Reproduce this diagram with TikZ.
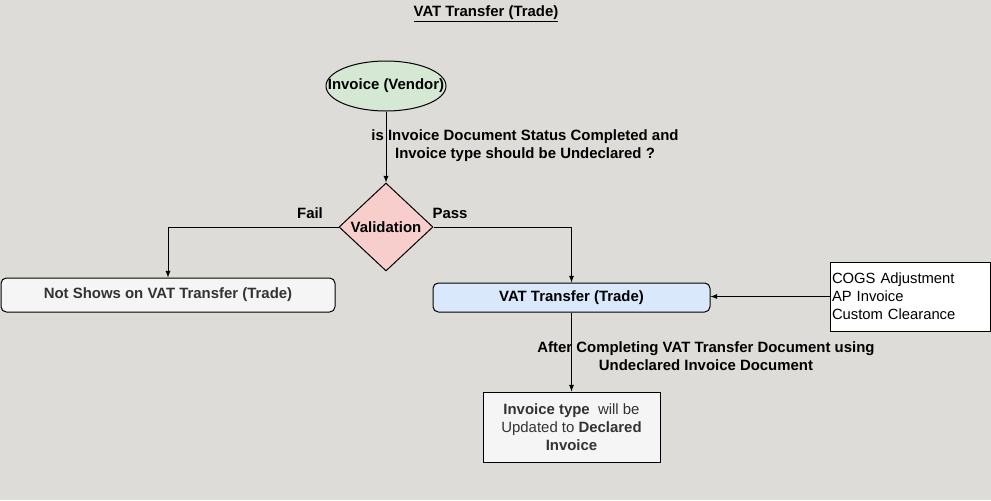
\documentclass[tikz,border=0pt]{standalone}
\usepackage{fontspec}
\setmainfont{Liberation Sans}
\usetikzlibrary{shapes.geometric,positioning}

\definecolor{bgGray}{HTML}{DEDCD8}
\definecolor{vendorGreen}{HTML}{D5E8D4}
\definecolor{checkRed}{HTML}{F8CECC}
\definecolor{vatBlue}{HTML}{DAE8FC}
\definecolor{plainGray}{HTML}{F5F5F5}
\definecolor{darkText}{HTML}{333333}

\newcommand{\pxw}[1]{#1*0.75pt}

\begin{document}
\begin{tikzpicture}[x=0.75pt,y=-0.75pt,line width=0.75pt,line join=round,>=latex,
    font=\fontsize{11.2}{13.5}\selectfont\bfseries,
    flowbox/.style={draw=black,inner sep=0pt,align=center},
    roundbox/.style={flowbox,rounded corners=4pt},
    flowlabel/.style={inner sep=0pt,align=center}]
  \fill [bgGray] (0,0) rectangle (991,500);
  \useasboundingbox (0,0) rectangle (991,500);

  \node (title) at (486,14) {\underline{VAT Transfer (Trade)}};

  % start and check (text laid over the fixed shape)
  \node [flowbox,ellipse,fill=vendorGreen,minimum width=\pxw{120},minimum height=\pxw{50},
    label={center:Invoice (Vendor)}] (vendor) at (386,86) {};
  \node [flowbox,diamond,fill=checkRed,minimum width=\pxw{94},minimum height=\pxw{88},
    label={center:Validation}] (validation) at (386,227) {};

  % results
  \node [roundbox,fill=plainGray,text=darkText,minimum width=\pxw{334},minimum height=\pxw{34}]
    (notshown) at (168,295) {Not Shows on VAT Transfer (Trade)};
  \node [roundbox,fill=vatBlue,minimum width=\pxw{277},minimum height=\pxw{29}]
    (vattransfer) at (571.5,297.5) {VAT Transfer (Trade)};
  \node [flowbox,fill=white,font=\fontsize{11.1}{13.5}\selectfont,align=left,
    text width=\pxw{156},minimum height=\pxw{69},inner sep=\pxw{2}]
    (sources) at (910,296.5) {COGS Adjustment\\AP Invoice\\Custom Clearance};
  \node [flowbox,fill=plainGray,text=darkText,minimum width=\pxw{177},minimum height=\pxw{70}]
    (declared) at (571.5,427)
    {Invoice type \ \mdseries will be\\\mdseries Updated to \bfseries Declared\\Invoice};

  % connectors
  \draw [->] (vendor) -- (validation);
  \node [flowlabel] (checklabel) at (525,146)
    {is Invoice Document Status Completed and\\Invoice type should be Undeclared ?};
  \draw [->] (validation.west) -| (notshown.north);
  \node [flowlabel] (faillabel) at (310,213) {Fail};
  \draw [->] (validation.east) -| (vattransfer.north);
  \node [flowlabel] (passlabel) at (450,213) {Pass};
  \draw [->] (sources.west) -- (sources.west -| vattransfer.east);
  \draw [->] (vattransfer) -- (declared);
  \node [flowlabel] (afterlabel) at (706,356)
    {After Completing VAT Transfer Document using\\Undeclared Invoice Document};
\end{tikzpicture}
\end{document}
